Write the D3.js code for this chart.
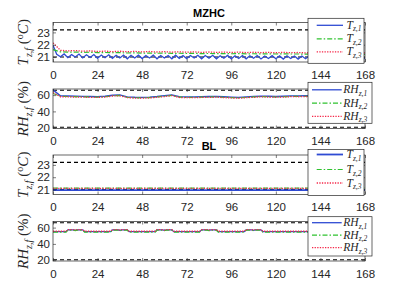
<!DOCTYPE html>
<html>
<head>
<meta charset="utf-8">
<script src="https://cdn.jsdelivr.net/npm/d3@7"></script>
<style>
body{margin:0;background:#fff;}
svg text{font-family:"Liberation Sans",Arial,sans-serif;}
svg text.math{font-family:"Liberation Serif","Times New Roman",serif;}
</style>
</head>
<body>
<div id="chart"></div>
<script>
// ---- data ----
var hourTicks = [0, 24, 48, 72, 96, 120, 144, 168];
var tempTicks = [21, 22, 23];
var rhTicks = [20, 40, 60];
var tempLimits = [21, 23.2];
var rhLimits = [20.5, 66];

// MZHC temperature, blue sampled every 2 h, green/red every 4 h
var mzhcT1 = [21.95, 21.22, 21.02, 21.25, 20.95, 21.2, 21.0, 21.24, 20.93, 21.18, 20.97, 21.2, 20.9, 21.17, 20.95, 21.18,
  20.9, 21.15, 20.92, 21.16, 20.86, 21.14, 20.92, 21.15, 20.88, 21.13, 20.93, 21.16, 20.86, 21.13, 20.92, 21.12, 20.86, 21.15,
  20.9, 21.13, 20.88, 21.12, 20.92, 21.14, 20.86, 21.12, 20.9, 21.14, 20.86, 21.1, 20.9, 21.13, 20.86, 21.1, 20.88, 21.12,
  20.86, 21.1, 20.9, 21.12, 20.85, 21.09, 20.88, 21.11, 20.86, 21.09, 20.84, 21.1, 20.88, 21.09, 20.84, 21.08, 20.86,
  21.1, 20.84, 21.07, 20.87, 21.09, 20.84, 21.07, 20.86, 21.08, 20.83, 21.06, 20.86, 21.08, 20.84, 21.06, 20.86];
var mzhcT2 = [21.6, 21.42, 21.4, 21.41, 21.38, 21.39, 21.36, 21.37, 21.35, 21.36, 21.33, 21.34, 21.32, 21.33, 21.31, 21.32,
  21.3, 21.31, 21.29, 21.3, 21.28, 21.29, 21.28, 21.28, 21.27, 21.28, 21.26, 21.27, 21.26, 21.26, 21.25, 21.26, 21.25,
  21.25, 21.24, 21.25, 21.24, 21.24, 21.23, 21.24, 21.23, 21.23, 21.22];
var mzhcT3 = [22.15, 21.55, 21.5, 21.53, 21.47, 21.5, 21.45, 21.48, 21.44, 21.47, 21.43, 21.46, 21.42, 21.45, 21.41, 21.44,
  21.4, 21.43, 21.39, 21.42, 21.38, 21.41, 21.38, 21.4, 21.37, 21.4, 21.36, 21.39, 21.36, 21.38, 21.35, 21.38, 21.35,
  21.37, 21.34, 21.37, 21.34, 21.36, 21.33, 21.36, 21.33, 21.35, 21.33];

// MZHC relative humidity, every 4 h
var mzhcRH1 = [66.5, 59.2, 58.9, 58.7, 58.5, 58.3, 58.2, 58.6, 59.8, 60.2, 57.9, 57.4, 57.2, 57.6, 58.3, 59.3, 60.3, 58.2,
  57.8, 57.9, 58.1, 58.3, 58.4, 58.0, 57.5, 57.2, 57.8, 58.4, 58.8, 58.6, 58.3, 58.6, 59.0, 59.1, 59.2, 59.2, 59.3, 59.3,
  59.4, 59.4, 59.5, 59.5, 59.5];
var mzhcRH2 = [62, 58.6, 58.3, 58.1, 57.9, 57.7, 57.6, 58.0, 59.2, 59.6, 57.3, 56.8, 56.6, 57.0, 57.7, 58.7, 59.7, 57.6,
  57.2, 57.3, 57.5, 57.7, 57.8, 57.4, 56.9, 56.6, 57.2, 57.8, 58.2, 58.0, 57.7, 58.0, 58.4, 58.5, 58.6, 58.6, 58.7, 58.7,
  58.8, 58.8, 58.9, 58.9, 58.9];
var mzhcRH3 = [63, 58.0, 57.9, 57.6, 57.6, 57.2, 57.3, 57.5, 58.9, 59.1, 57.0, 56.3, 56.3, 56.5, 57.4, 58.2, 59.4, 57.1,
  56.9, 56.8, 57.2, 57.2, 57.5, 56.9, 56.6, 56.1, 56.9, 57.3, 57.9, 57.5, 57.4, 57.5, 58.1, 58.0, 58.3, 58.1, 58.4, 58.2,
  58.5, 58.3, 58.6, 58.4, 58.5];

// BL temperature, every 24 h
var blT1 = [20.95, 20.95, 20.95, 20.95, 20.95, 20.95, 20.95, 20.95];
var blT2 = [21.12, 21.12, 21.12, 21.12, 21.12, 21.12, 21.12, 21.12];
var blT3 = [21.1, 21.1, 21.1, 21.1, 21.1, 21.1, 21.1, 21.1];

// BL relative humidity, break points (hours)
var blHours = [0, 7, 8, 11, 12, 13, 16, 17, 31, 32, 35, 36, 37, 40, 41, 55, 56, 59, 60, 61, 64, 65,
  79, 80, 83, 84, 85, 88, 89, 103, 104, 107, 108, 109, 112, 113, 168];
var blRH1 = [55, 55, 57.2, 57.2, 56.6, 57.2, 57.2, 55, 55, 57.2, 57.2, 56.6, 57.2, 57.2, 55, 55, 57.2, 57.2, 56.6, 57.2, 57.2, 55,
  55, 57.2, 57.2, 56.6, 57.2, 57.2, 55, 55, 57.2, 57.2, 56.6, 57.2, 57.2, 55, 55];
var blRH2 = [54.5, 54.5, 56.8, 56.8, 56.2, 56.8, 56.8, 54.5, 54.5, 56.8, 56.8, 56.2, 56.8, 56.8, 54.5, 54.5, 56.8, 56.8, 56.2, 56.8, 56.8, 54.5,
  54.5, 56.8, 56.8, 56.2, 56.8, 56.8, 54.5, 54.5, 56.8, 56.8, 56.2, 56.8, 56.8, 54.5, 54.5];
var blRH3 = [55.5, 55.5, 57.6, 57.6, 57.0, 57.6, 57.6, 55.5, 55.5, 57.6, 57.6, 57.0, 57.6, 57.6, 55.5, 55.5, 57.6, 57.6, 57.0, 57.6, 57.6, 55.5,
  55.5, 57.6, 57.6, 57.0, 57.6, 57.6, 55.5, 55.5, 57.6, 57.6, 57.0, 57.6, 57.6, 55.5, 55.5];

// ---- layout ----
var width = 403, height = 302;
var x0 = 53, x1 = 365, panelH = 39.5;
var axisColor = '#262626';
var blue = '#2f4bd3', green = '#2fc22f', red = '#f5284a';

function withStep(vals, step){ return vals.map(function(v, i){ return [i * step, v]; }); }
function withHours(hours, vals){ return vals.map(function(v, i){ return [hours[i], v]; }); }

var styles = [
  {color: blue, dash: null, width: 1.3},
  {color: green, dash: '5,2,1.5,2', width: 1.2},
  {color: red, dash: '1.3,1.3', width: 1.3}
];

var panels = [
  {top: 22.5, kind: 'T', domain: [20.6, 23.8], ticks: tempTicks, limits: tempLimits, title: 'MZHC',
   data: [withStep(mzhcT1, 2), withStep(mzhcT2, 4), withStep(mzhcT3, 4)],
   legend: {x: 308, y: 18.3, w: 56, h: 45, rows: [7, 20.5, 33.5]}},
  {top: 89, kind: 'RH', domain: [19, 67.5], ticks: rhTicks, limits: rhLimits,
   data: [withStep(mzhcRH1, 4), withStep(mzhcRH2, 4), withStep(mzhcRH3, 4)],
   legend: {x: 308, y: 82.3, w: 64, h: 41, rows: [7.5, 20.8, 34]}},
  {top: 155, kind: 'T', domain: [20.6, 23.8], ticks: tempTicks, limits: tempLimits, title: 'BL',
   data: [withStep(blT1, 24), withStep(blT2, 24), withStep(blT3, 24)], lineW: 1.8,
   legend: {x: 308, y: 149.5, w: 56, h: 46, rows: [5, 20, 33.5]}},
  {top: 221.5, kind: 'RH', domain: [19, 67.5], ticks: rhTicks, limits: rhLimits,
   data: [withHours(blHours, blRH1), withHours(blHours, blRH2), withHours(blHours, blRH3)],
   legend: {x: 308, y: 216.7, w: 64, h: 39.3, rows: [6, 18.5, 31]}}
];

var svg = d3.select('#chart').append('svg')
    .attr('width', width)
    .attr('height', height);

var x = d3.scaleLinear().domain([0, 168]).range([x0, x1]);

panels.forEach(function(p, i){
    var y = d3.scaleLinear().domain(p.domain).range([p.top + panelH, p.top]);
    var g = svg.append('g');

    g.append('clipPath').attr('id', 'clip' + i)
      .append('rect')
        .attr('x', x0).attr('y', p.top)
        .attr('width', x1 - x0).attr('height', panelH);

    // comfort limits
    g.selectAll('.lim').data(p.limits).enter().append('line')
        .attr('x1', x0).attr('x2', x1)
        .attr('y1', function(d){ return y(d); })
        .attr('y2', function(d){ return y(d); })
        .attr('stroke', '#000').attr('stroke-width', 1.1)
        .attr('stroke-dasharray', '4,3');

    var line = d3.line().x(function(d){ return x(d[0]); }).y(function(d){ return y(d[1]); });

    g.append('g').attr('clip-path', 'url(#clip' + i + ')')
      .selectAll('path').data(p.data).enter().append('path')
        .attr('d', line)
        .attr('fill', 'none')
        .attr('stroke', function(d, k){ return styles[k].color; })
        .attr('stroke-width', function(d, k){ return p.lineW && k == 0 ? p.lineW : styles[k].width; })
        .attr('stroke-dasharray', function(d, k){ return styles[k].dash; });

    // axes, ticks inside like matlab
    var bottom = g.append('g').attr('transform', 'translate(0,' + (p.top + panelH) + ')')
        .call(d3.axisBottom(x).tickValues(hourTicks).tickSize(-3).tickPadding(8.5));
    var top = g.append('g').attr('transform', 'translate(0,' + p.top + ')')
        .call(d3.axisTop(x).tickValues(hourTicks).tickSize(-3).tickFormat(''));
    var left = g.append('g').attr('transform', 'translate(' + x0 + ',0)')
        .call(d3.axisLeft(y).tickValues(p.ticks).tickSize(-3).tickPadding(3).tickFormat(d3.format('d')));
    var right = g.append('g').attr('transform', 'translate(' + x1 + ',0)')
        .call(d3.axisRight(y).tickValues(p.ticks).tickSize(-3).tickFormat(''));
    [bottom, top, left, right].forEach(function(a){
        a.select('.domain').remove();
        a.selectAll('line').attr('stroke', axisColor).attr('stroke-width', 0.6);
        a.selectAll('text').attr('fill', axisColor).attr('font-size', 11.5)
            .attr('font-family', '"Liberation Sans",Arial,sans-serif');
    });

    g.append('rect')
        .attr('x', x0).attr('y', p.top)
        .attr('width', x1 - x0).attr('height', panelH)
        .attr('fill', 'none').attr('stroke', axisColor).attr('stroke-width', 0.7);

    // y label
    var cy = p.top + panelH / 2;
    var lab = g.append('text').attr('class', 'math')
        .attr('transform', 'translate(28,' + cy + ') rotate(-90)')
        .attr('text-anchor', 'middle')
        .attr('font-size', 15)
        .attr('fill', axisColor);
    lab.append('tspan').attr('font-style', 'italic').text(p.kind);
    lab.append('tspan').attr('font-style', 'italic').attr('font-size', 10).attr('dy', 3.5).text('z,f');
    if (p.kind == 'T') {
        lab.append('tspan').attr('dy', -3.5).text(' (');
        lab.append('tspan').attr('font-size', 10).attr('dy', -5.5).text('o');
        lab.append('tspan').attr('font-style', 'italic').attr('dy', 5.5).text('C');
        lab.append('tspan').text(')');
    } else {
        lab.append('tspan').attr('dy', -3.5).text(' (%)');
    }

    if (p.title) {
        svg.append('text')
            .attr('x', (x0 + x1) / 2).attr('y', p.top - 5.5)
            .attr('text-anchor', 'middle')
            .attr('font-weight', 'bold').attr('font-size', 11)
            .attr('fill', '#000')
            .text(p.title);
    }

    // legend
    var L = p.legend;
    var lg = svg.append('g');
    lg.append('rect')
        .attr('x', L.x).attr('y', L.y).attr('width', L.w).attr('height', L.h)
        .attr('fill', '#fff').attr('stroke', axisColor).attr('stroke-width', 0.7);
    var lx0 = p.kind == 'T' ? 8.7 : 4, lx1 = p.kind == 'T' ? 35 : 33.7, tx = p.kind == 'T' ? 38.5 : 35.3;
    styles.forEach(function(s, k){
        var yy = L.y + L.rows[k];
        lg.append('line')
            .attr('x1', L.x + lx0).attr('x2', L.x + lx1)
            .attr('y1', yy).attr('y2', yy)
            .attr('stroke', s.color)
            .attr('stroke-width', p.lineW && k == 0 ? p.lineW : s.width)
            .attr('stroke-dasharray', s.dash);
        var t = lg.append('text').attr('class', 'math')
            .attr('x', L.x + tx).attr('y', yy + 3.5)
            .attr('font-style', 'italic').attr('font-size', 11.5)
            .attr('fill', axisColor);
        t.append('tspan').text(p.kind);
        t.append('tspan').attr('font-size', 7.5).attr('dy', 2.5).text('z,' + (k + 1));
    });
});
</script>
</body>
</html>
